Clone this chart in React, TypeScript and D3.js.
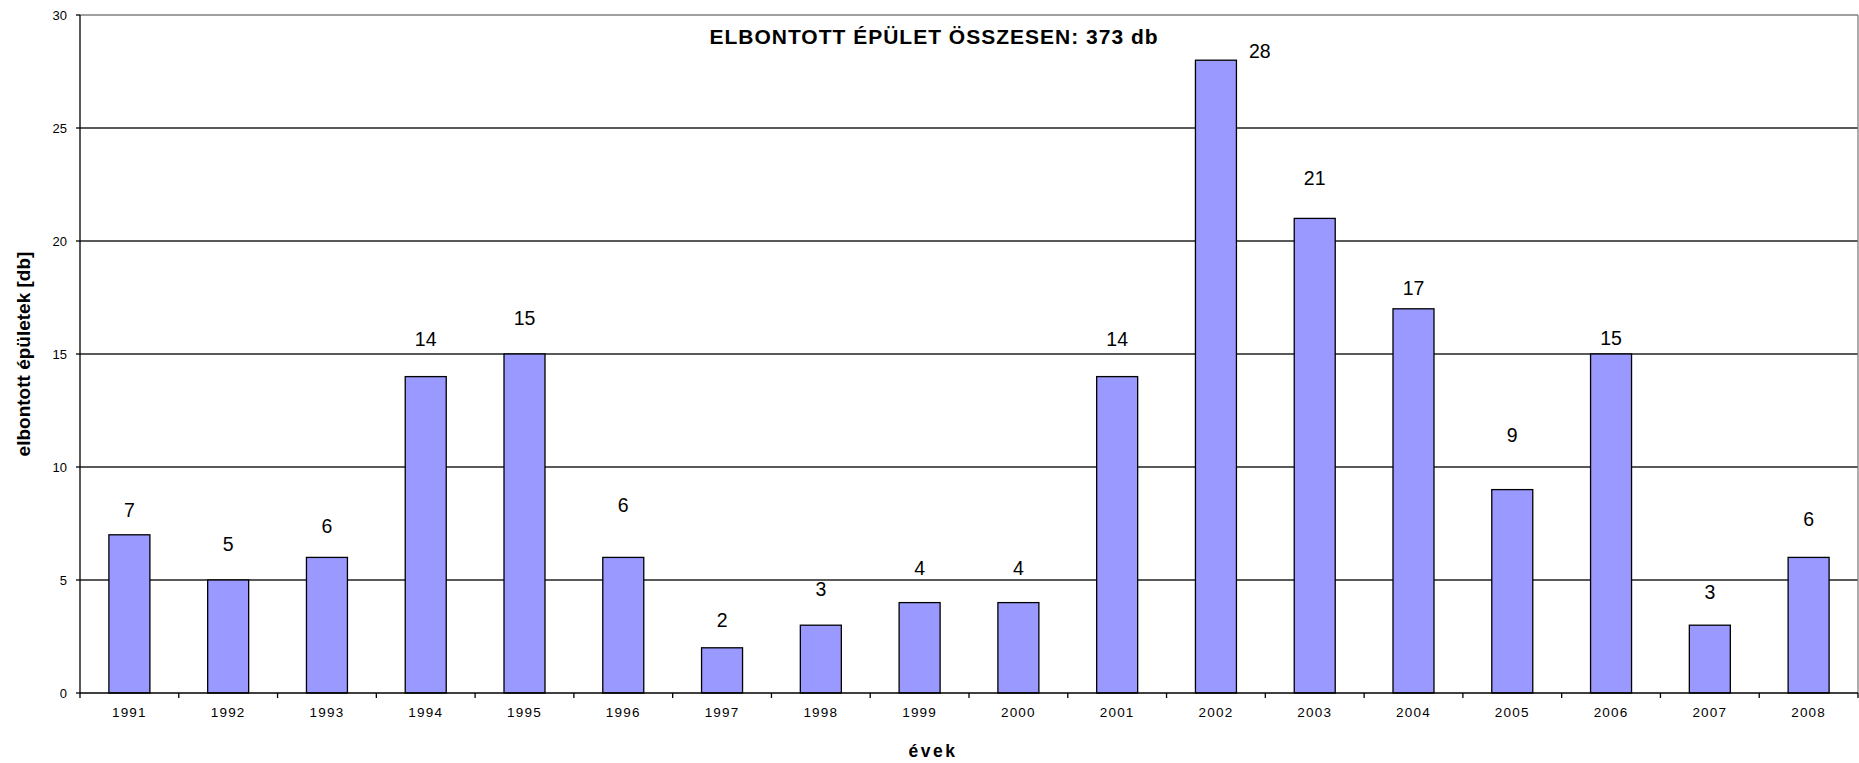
import React from "react";
import * as d3 from "d3";

// demolished buildings per year
const years = ["1991", "1992", "1993", "1994", "1995", "1996", "1997", "1998", "1999",
  "2000", "2001", "2002", "2003", "2004", "2005", "2006", "2007", "2008"];
const counts = [7, 5, 6, 14, 15, 6, 2, 3, 4, 4, 14, 28, 21, 17, 9, 15, 3, 6];
// where each value label sits (value units)
const labelAt = [8.1, 6.6, 7.4, 15.65, 16.6, 8.3, 3.25, 4.6, 5.55, 5.55, 15.65, 28.4,
  22.8, 17.9, 11.4, 15.7, 4.45, 7.7];
const yTicks = [0, 5, 10, 15, 20, 25, 30];

const title = "ELBONTOTT ÉPÜLET ÖSSZESEN: 373 db";
const xTitle = "évek";
const yTitle = "elbontott épületek [db]";

const W = 1859;
const H = 763;
const M = { top: 15, right: 1, bottom: 70, left: 80 };
const FONT = "'Liberation Sans', Arial, sans-serif";

export default function App() {
  const x = d3.scaleBand()
    .domain(years)
    .range([M.left, W - M.right])
    .paddingInner(0.585)
    .paddingOuter(0.2925);
  const band = d3.scaleBand().domain(years).range([M.left, W - M.right]);
  const y = d3.scaleLinear().domain([0, 30]).range([H - M.bottom, M.top]);

  const x0 = M.left;
  const x1 = W - M.right;
  const y0 = y(0);

  return (
    <svg width={W} height={H} style={{ position: "absolute", left: 0, top: 0, background: "#fff" }}
      fontFamily={FONT}>
      {/* gridlines */}
      {yTicks.filter((t) => t > 0).map((t) => (
        <line key={"g" + t} x1={x0} x2={x1} y1={y(t)} y2={y(t)}
          stroke={t === 30 ? "#808080" : "#222"} strokeWidth={1.3} />
      ))}
      <line x1={x1} x2={x1} y1={y(30)} y2={y0} stroke="#808080" strokeWidth={1.3} />

      {/* bars */}
      {counts.map((v, i) => (
        <rect key={"b" + i} x={x(years[i])} y={y(v)} width={x.bandwidth()} height={y0 - y(v)}
          fill="#9999ff" stroke="#000" strokeWidth={1.3} />
      ))}

      {/* value labels; the one that would touch the top is moved beside its bar */}
      {counts.map((v, i) => {
        const cx = x(years[i])! + x.bandwidth() / 2;
        const beside = labelAt[i] - v < 0.5;
        return (
          <text key={"l" + i} x={beside ? cx + x.bandwidth() * 1.07 : cx} y={y(labelAt[i])}
            dy="0.36em" textAnchor="middle" fontSize={19.5} fill="#000">{v}</text>
        );
      })}

      {/* axes */}
      <line x1={x0} x2={x0} y1={y(30)} y2={y0} stroke="#000" strokeWidth={1.3} />
      <line x1={x0} x2={x1} y1={y0} y2={y0} stroke="#000" strokeWidth={1.3} />
      {yTicks.map((t) => (
        <g key={"yt" + t}>
          <line x1={x0 - 4} x2={x0} y1={y(t)} y2={y(t)} stroke="#000" strokeWidth={1.3} />
          <text x={x0 - 13} y={y(t)} dy="0.36em" textAnchor="end" fontSize={13}>{t}</text>
        </g>
      ))}
      {years.map((yr, i) => (
        <g key={"xt" + yr}>
          <line x1={band(yr)!} x2={band(yr)!} y1={y0} y2={y0 + 5} stroke="#000" strokeWidth={1.3} />
          <text x={band(yr)! + band.bandwidth() / 2} y={y0 + 24} textAnchor="middle" fontSize={13.5}
            letterSpacing={1.2}>{yr}</text>
          {i === years.length - 1 && (
            <line x1={x1} x2={x1} y1={y0} y2={y0 + 5} stroke="#000" strokeWidth={1.3} />
          )}
        </g>
      ))}

      {/* titles */}
      <text x={934} y={44} textAnchor="middle" fontSize={21} fontWeight="bold" letterSpacing={1}>
        {title}
      </text>
      <text x={933} y={757} textAnchor="middle" fontSize={17.5} fontWeight="bold" letterSpacing={2.5}>
        {xTitle}
      </text>
      <text transform={`translate(30,${(y(30) + y0) / 2}) rotate(-90)`} textAnchor="middle"
        fontSize={19} fontWeight="bold">{yTitle}</text>
    </svg>
  );
}
